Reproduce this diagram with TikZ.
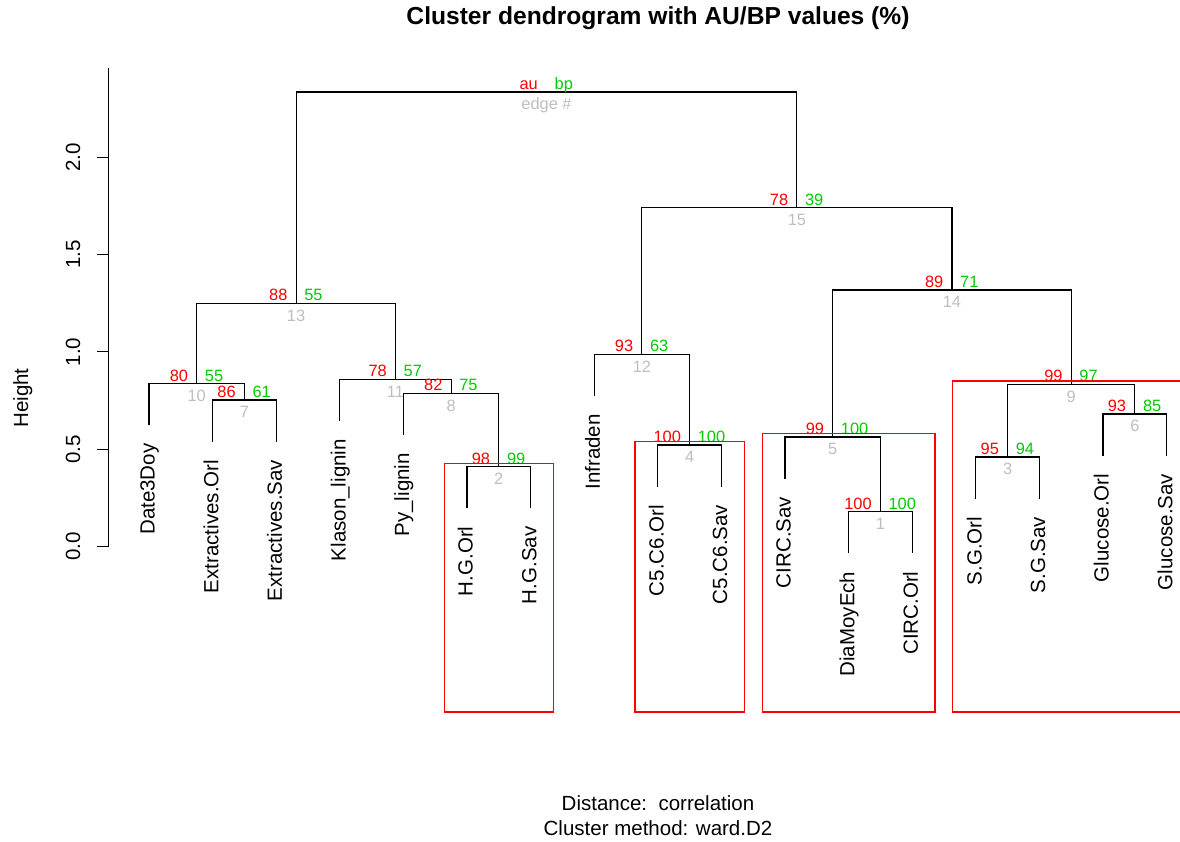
\documentclass[tikz,border=0pt]{standalone}
\usepackage{fontspec}
\setmainfont{Liberation Sans}
\usepackage{tikz}
\definecolor{pvred}{HTML}{FF0000}
\definecolor{pvgreen}{HTML}{00CD00}
\definecolor{pvgray}{HTML}{BEBEBE}

\begin{document}
\begin{tikzpicture}[x=1pt,y=-1pt,
    branch/.style={line width=1.1pt,black},
    pvbox/.style={line width=1.2pt,pvred},
    leaf/.style={rotate=90,anchor=base east,inner sep=0pt,font=\fontsize{20.5}{24}\selectfont},
    ticklab/.style={rotate=90,anchor=base,inner sep=0pt,font=\fontsize{20.5}{24}\selectfont},
    aunum/.style={anchor=base east,inner sep=0pt,text=pvred,xshift=-8.5pt,yshift=2.5pt,font=\fontsize{16.4}{19}\selectfont},
    bpnum/.style={anchor=base west,inner sep=0pt,text=pvgreen,xshift=8pt,yshift=2.5pt,font=\fontsize{16.4}{19}\selectfont},
    edgenum/.style={anchor=base,inner sep=0pt,text=pvgray,yshift=-17.8pt,font=\fontsize{16.4}{19}\selectfont}]

    \useasboundingbox (0,0) rectangle (1180,842);

    %title
    \node[font=\fontsize{24.6}{28}\selectfont\bfseries] (title) at (658,18) {Cluster dendrogram with AU/BP values (\%)};
    \node[font=\fontsize{20.5}{24}\selectfont] (dist) at (658,803) {Distance:\ \ correlation};
    \node[font=\fontsize{20.5}{24}\selectfont] (meth) at (658,828) {Cluster method: ward.D2};

    %axis
    \draw[line width=1pt] (108,68) -- (108,546.5);
    \draw[line width=1pt] (108,546.5) -- (97,546.5);
    \draw[line width=1pt] (108,449.2) -- (97,449.2);
    \draw[line width=1pt] (108,351.9) -- (97,351.9);
    \draw[line width=1pt] (108,254.6) -- (97,254.6);
    \draw[line width=1pt] (108,157.3) -- (97,157.3);
    \node[ticklab] (y0) at (80,546.5) {0.0};
    \node[ticklab] (y1) at (80,449.2) {0.5};
    \node[ticklab] (y2) at (80,351.9) {1.0};
    \node[ticklab] (y3) at (80,254.6) {1.5};
    \node[ticklab] (y4) at (80,157.3) {2.0};
    \node[ticklab] (ylab) at (28,398) {Height};

    %leaves
    \coordinate (l1) at (149,425.4);
    \coordinate (l2) at (212.6,441.7);
    \coordinate (l3) at (276.2,441.7);
    \coordinate (l4) at (339.8,421);
    \coordinate (l5) at (403.4,435);
    \coordinate (l6) at (467,508.4);
    \coordinate (l7) at (530.6,508.4);
    \coordinate (l8) at (594.2,396);
    \coordinate (l9) at (657.8,486.7);
    \coordinate (l10) at (721.4,486.7);
    \coordinate (l11) at (785,478.7);
    \coordinate (l12) at (848.6,553.4);
    \coordinate (l13) at (912.2,553.4);
    \coordinate (l14) at (975.8,498.7);
    \coordinate (l15) at (1039.4,498.7);
    \coordinate (l16) at (1103,455.7);
    \coordinate (l17) at (1166.6,455.7);

    \node[leaf] (t1) at (154.7,443.4) {Date3Doy};
    \node[leaf] (t2) at (218.3,459.7) {Extractives.Orl};
    \node[leaf] (t3) at (281.9,459.7) {Extractives.Sav};
    \node[leaf] (t4) at (345.5,439) {Klason\_lignin};
    \node[leaf] (t5) at (409.1,453) {Py\_lignin};
    \node[leaf] (t6) at (472.7,526.4) {H.G.Orl};
    \node[leaf] (t7) at (536.3,526.4) {H.G.Sav};
    \node[leaf] (t8) at (599.9,414) {Infraden};
    \node[leaf] (t9) at (663.5,504.7) {C5.C6.Orl};
    \node[leaf] (t10) at (727.1,504.7) {C5.C6.Sav};
    \node[leaf] (t11) at (790.7,496.7) {CIRC.Sav};
    \node[leaf] (t12) at (854.3,571.4) {DiaMoyEch};
    \node[leaf] (t13) at (917.9,571.4) {CIRC.Orl};
    \node[leaf] (t14) at (981.5,516.7) {S.G.Orl};
    \node[leaf] (t15) at (1045.1,516.7) {S.G.Sav};
    \node[leaf] (t16) at (1108.7,473.7) {Glucose.Orl};
    \node[leaf] (t17) at (1172.3,473.7) {Glucose.Sav};

    %merges
    \coordinate (n1) at (880.4,511.7);
    \coordinate (n2) at (498.8,466.7);
    \coordinate (n3) at (1007.6,457);
    \coordinate (n4) at (689.6,445);
    \coordinate (n5) at (832.7,437);
    \coordinate (n6) at (1134.8,414);
    \coordinate (n7) at (244.4,400);
    \coordinate (n8) at (451.1,393.3);
    \coordinate (n9) at (1071.2,384.3);
    \coordinate (n10) at (196.7,383.7);
    \coordinate (n11) at (395.45,379.3);
    \coordinate (n12) at (641.9,354.3);
    \coordinate (n13) at (296.1,303.3);
    \coordinate (n14) at (951.95,290);
    \coordinate (n15) at (796.9,207.7);
    \coordinate (n16) at (546.5,92);

    \draw[branch] (l12) |- (n1) -| (l13);
    \draw[branch] (l6) |- (n2) -| (l7);
    \draw[branch] (l14) |- (n3) -| (l15);
    \draw[branch] (l9) |- (n4) -| (l10);
    \draw[branch] (l11) |- (n5) -| (n1);
    \draw[branch] (l16) |- (n6) -| (l17);
    \draw[branch] (l2) |- (n7) -| (l3);
    \draw[branch] (l5) |- (n8) -| (n2);
    \draw[branch] (n3) |- (n9) -| (n6);
    \draw[branch] (l1) |- (n10) -| (n7);
    \draw[branch] (l4) |- (n11) -| (n8);
    \draw[branch] (l8) |- (n12) -| (n4);
    \draw[branch] (n10) |- (n13) -| (n11);
    \draw[branch] (n5) |- (n14) -| (n9);
    \draw[branch] (n12) |- (n15) -| (n14);
    \draw[branch] (n13) |- (n16) -| (n15);

    %au / bp / edge
    \node[aunum] (au1) at (n1) {100};  \node[bpnum] (bp1) at (n1) {100};  \node[edgenum] (e1) at (n1) {1};
    \node[aunum] (au2) at (n2) {98};   \node[bpnum] (bp2) at (n2) {99};   \node[edgenum] (e2) at (n2) {2};
    \node[aunum] (au3) at (n3) {95};   \node[bpnum] (bp3) at (n3) {94};   \node[edgenum] (e3) at (n3) {3};
    \node[aunum] (au4) at (n4) {100};  \node[bpnum] (bp4) at (n4) {100};  \node[edgenum] (e4) at (n4) {4};
    \node[aunum] (au5) at (n5) {99};   \node[bpnum] (bp5) at (n5) {100};  \node[edgenum] (e5) at (n5) {5};
    \node[aunum] (au6) at (n6) {93};   \node[bpnum] (bp6) at (n6) {85};   \node[edgenum] (e6) at (n6) {6};
    \node[aunum] (au7) at (n7) {86};   \node[bpnum] (bp7) at (n7) {61};   \node[edgenum] (e7) at (n7) {7};
    \node[aunum] (au8) at (n8) {82};   \node[bpnum] (bp8) at (n8) {75};   \node[edgenum] (e8) at (n8) {8};
    \node[aunum] (au9) at (n9) {99};   \node[bpnum] (bp9) at (n9) {97};   \node[edgenum] (e9) at (n9) {9};
    \node[aunum] (au10) at (n10) {80}; \node[bpnum] (bp10) at (n10) {55}; \node[edgenum] (e10) at (n10) {10};
    \node[aunum] (au11) at (n11) {78}; \node[bpnum] (bp11) at (n11) {57}; \node[edgenum] (e11) at (n11) {11};
    \node[aunum] (au12) at (n12) {93}; \node[bpnum] (bp12) at (n12) {63}; \node[edgenum] (e12) at (n12) {12};
    \node[aunum] (au13) at (n13) {88}; \node[bpnum] (bp13) at (n13) {55}; \node[edgenum] (e13) at (n13) {13};
    \node[aunum] (au14) at (n14) {89}; \node[bpnum] (bp14) at (n14) {71}; \node[edgenum] (e14) at (n14) {14};
    \node[aunum] (au15) at (n15) {78}; \node[bpnum] (bp15) at (n15) {39}; \node[edgenum] (e15) at (n15) {15};
    \node[aunum] (au16) at (n16) {au}; \node[bpnum] (bp16) at (n16) {bp}; \node[edgenum] (e16) at (n16) {edge \#};

    %pvrect
    \draw[pvbox] (444.3,463.3) rectangle (553.5,712);
    \draw[pvbox] (635,441.6) rectangle (744.2,712);
    \draw[pvbox] (762.3,433.6) rectangle (934.9,712);
    \draw[pvbox] (1180,380.9) -- (952.7,380.9) -- (952.7,712) -- (1180,712);

\end{tikzpicture}
\end{document}
